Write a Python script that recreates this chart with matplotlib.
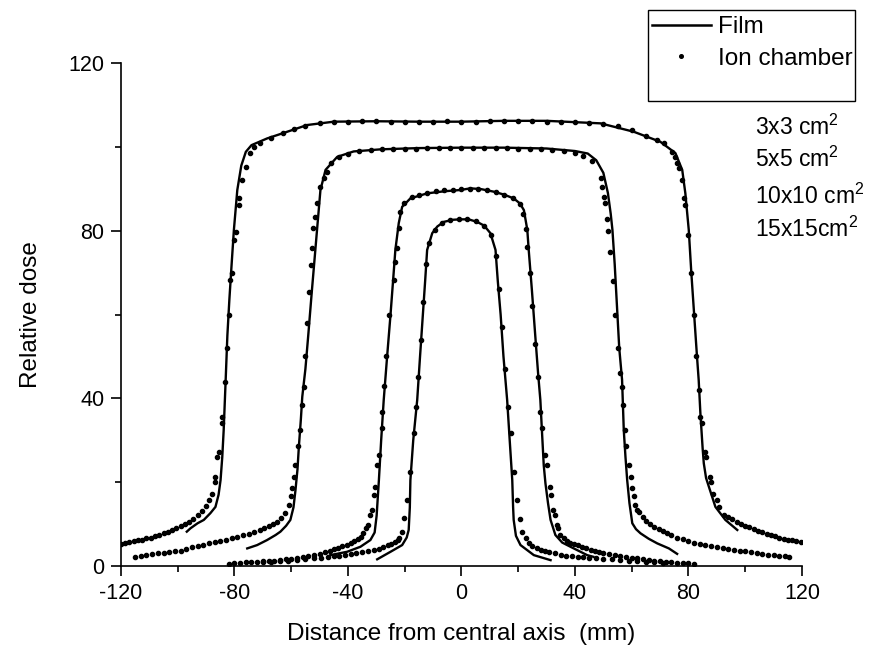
import matplotlib
matplotlib.use("Agg")
import matplotlib.pyplot as plt
from matplotlib.lines import Line2D
from matplotlib.patches import Rectangle
from matplotlib.ticker import MultipleLocator

plt.rcParams['font.family'] = ['Liberation Sans', 'DejaVu Sans']
plt.rcParams['mathtext.fontset'] = 'custom'
plt.rcParams['mathtext.rm'] = 'Liberation Sans'
plt.rcParams['mathtext.default'] = 'regular'
plt.rcParams['axes.unicode_minus'] = False

# ---- film profiles (solid lines) ----
film_15_x = [-96.8, -95.5, -93.0, -90.8, -88.5, -86.7, -85.6, -84.9, -84.3, -83.8, -83.1, -82.5, -81.8, -81.0,
             -80.2, -79.0, -77.6, -76.0, -74.0, -68.5, -61.4, -54.4, -45.0, -30.0, -15.0, 0.0, 15.0, 30.0,
             49.0, 60.7, 70.1, 75.4, 77.8, 78.9, 80.1, 81.0, 82.0, 83.0, 83.6, 84.2, 85.0, 85.4, 86.2, 87.2,
             89.5, 93.0, 97.2]
film_15_y = [8.2, 9.0, 10.2, 11.0, 12.6, 14.1, 17.0, 20.5, 26.0, 32.4, 44.4, 55.0, 63.5, 72.0,
             80.2, 89.7, 95.5, 98.8, 100.4, 102.0, 103.6, 105.2, 106.0, 106.1, 106.0, 106.0, 106.2, 106.2,
             105.6, 103.6, 101.2, 98.5, 94.5, 88.9, 80.2, 70.0, 60.0, 50.0, 44.4, 36.4, 28.0, 24.5, 21.0, 18.9,
             14.1, 11.0, 8.6]

film_10_x = [-75.5, -72.0, -68.5, -65.5, -63.8, -61.8, -60.3, -59.2, -58.5, -57.8, -57.3, -56.6, -56.1, -55.0,
             -54.0, -52.8, -51.8, -50.9, -49.7, -47.9, -43.8, -38.0, -28.5, -15.0, 0.0, 15.0, 30.0, 40.0,
             44.5, 47.5, 50.0, 51.6, 52.6, 53.2, 54.0, 54.8, 55.6, 56.6, 57.2, 57.8, 58.4, 59.2, 60.2, 61.5,
             63.1, 66.0, 69.0, 73.1, 76.0]
film_10_y = [4.2, 5.0, 6.2, 7.4, 8.2, 9.6, 11.0, 14.0, 18.1, 23.0, 28.5, 35.0, 40.4, 47.0,
             55.0, 65.0, 73.0, 80.2, 89.7, 94.5, 97.6, 98.9, 99.4, 99.7, 99.8, 99.8, 99.6, 99.0,
             98.4, 96.8, 93.8, 89.0, 84.0, 80.2, 72.0, 62.0, 52.0, 44.4, 32.4, 26.0, 20.5, 15.0, 10.2, 8.8,
             7.8, 6.5, 5.4, 4.2, 2.9]

film_5_x = [-46.2, -40.3, -35.6, -32.1, -30.6, -29.9, -29.1, -28.3, -27.4, -26.2, -25.0, -24.0, -23.3, -22.1,
            -20.9, -18.0, -12.1, -6.0, -0.4, 3.2, 7.0, 11.4, 15.0, 18.4, 20.6, 22.0, 23.2, 23.7, 24.8,
            26.0, 27.0, 27.8, 28.4, 29.0, 29.6, 30.5, 31.4, 33.1, 35.5, 38.4, 44.3, 46.5]
film_5_y = [2.6, 3.4, 4.6, 6.2, 8.0, 12.0, 20.5, 30.0, 39.6, 50.0, 60.0, 69.0, 75.4, 81.8,
            85.7, 87.7, 88.9, 89.4, 89.7, 90.1, 89.9, 89.3, 88.6, 87.7, 86.5, 84.9, 80.2, 75.4, 66.0,
            55.0, 46.0, 39.6, 31.7, 24.0, 19.7, 15.0, 11.0, 7.4, 5.6, 4.6, 2.6, 2.2]

film_3_x = [-29.7, -25.0, -20.9, -19.3, -18.6, -18.2, -18.0, -17.0, -15.6, -14.6, -13.6, -12.8, -12.1, -10.3,
            -8.5, -6.2, -3.0, -0.4, 2.5, 5.5, 8.0, 10.2, 12.0, 12.8, 13.8, 14.8, 16.1, 17.0, 17.9, 18.2,
            18.4, 19.2, 20.8, 25.5, 31.4]
film_3_y = [1.6, 3.4, 5.0, 6.8, 8.6, 14.0, 20.5, 30.0, 39.6, 50.0, 60.0, 68.0, 75.4, 79.4,
            81.0, 82.1, 82.6, 82.7, 82.7, 82.1, 81.2, 79.4, 75.4, 68.0, 60.0, 50.0, 39.6, 30.0, 20.5, 14.0,
            11.0, 7.2, 5.0, 2.6, 1.4]

# ---- ion chamber profiles (dots) ----
ion_15_x = [-120.0, -118.5, -117.0, -115.5, -114.0, -112.5, -111.0, -109.5, -108.0, -106.5, -105.0, -103.5,
            -102.0, -100.5, -99.0, -97.5, -96.0, -94.5, -93.0, -91.5, -90.2, -89.1, -87.9, -86.7, -86.7,
            -86.1, -85.5, -84.3, -84.3, -83.5, -82.8, -82.0, -81.4, -80.8, -80.2, -79.6, -78.5, -78.5,
            -77.3, -76.1, -74.4, -73.2, -71.0, -67.0, -63.0, -59.0, -55.0, -50.0, -45.0, -40.0, -35.0,
            -30.0, -25.0, -20.0, -15.0, -10.0, -5.0, 0.0, 5.0, 10.0, 15.0, 20.0, 25.0, 30.0, 35.0, 40.0,
            45.0, 50.0, 55.0, 60.0, 65.0, 69.0, 71.3, 74.2, 75.4, 76.0, 76.6, 77.8, 78.3, 78.9, 80.0,
            80.8, 81.8, 82.8, 83.6, 84.2, 84.8, 86.0, 86.3, 87.5, 87.8, 88.7, 89.9, 90.7, 92.4, 94.0,
            95.5, 97.0, 98.5, 100.0, 101.5, 103.0, 104.5, 106.0, 107.5, 109.0, 110.5, 112.0, 113.5,
            115.0, 116.5, 118.0, 119.5]
ion_15_y = [5.3, 5.5, 5.7, 5.9, 6.1, 6.3, 6.6, 6.8, 7.1, 7.4, 7.8, 8.2,
            8.6, 9.0, 9.5, 10.0, 10.6, 11.3, 12.2, 13.2, 14.4, 15.7, 17.3, 20.1, 21.3,
            26.1, 27.3, 34.0, 35.6, 44.0, 52.0, 60.0, 68.2, 69.8, 77.8, 79.8, 86.1, 87.7,
            92.1, 95.3, 98.5, 100.0, 101.0, 102.2, 103.2, 104.2, 105.0, 105.6, 105.9, 106.0, 106.1,
            106.1, 106.0, 106.0, 105.9, 106.0, 106.1, 106.0, 106.0, 106.1, 106.1, 106.2, 106.1, 106.0, 106.0, 105.9,
            105.8, 105.4, 104.9, 103.9, 102.7, 101.6, 100.8, 98.8, 97.6, 96.1, 94.9, 92.1, 87.7, 86.1, 79.0,
            70.0, 60.0, 50.0, 42.0, 35.6, 34.0, 27.3, 26.1, 21.3, 20.1, 17.3, 15.7, 14.1, 12.2, 11.6,
            11.1, 10.6, 10.1, 9.6, 9.2, 8.8, 8.4, 8.0, 7.7, 7.4, 7.1, 6.8, 6.5,
            6.3, 6.1, 5.9, 5.7]

ion_10_x = [-115.0, -113.0, -111.0, -109.0, -107.0, -105.0, -103.0, -101.0, -99.0, -97.0, -95.0, -93.0,
            -91.0, -89.0, -87.0, -85.0, -83.0, -81.0, -79.0, -77.0, -75.0, -73.0, -71.0, -69.5, -68.0,
            -66.5, -65.0, -63.5, -62.2, -60.8, -60.0, -59.7, -58.9, -58.5, -57.7, -57.0, -56.1, -55.6,
            -55.0, -54.4, -53.8, -53.2, -52.6, -52.3, -51.5, -50.9, -49.7, -48.3, -47.3, -46.0, -43.0,
            -40.0, -36.0, -32.0, -28.0, -24.0, -20.0, -16.0, -12.0, -8.0, -4.0, 0.0, 4.0, 8.0, 12.0,
            16.0, 20.0, 24.0, 28.0, 32.0, 36.0, 40.0, 43.0, 46.0, 49.0, 49.6, 50.2, 50.7, 51.3, 51.8,
            52.5, 53.3, 54.2, 55.0, 55.8, 56.6, 56.9, 57.8, 58.1, 59.0, 59.6, 60.2, 60.7, 61.3, 61.9,
            62.5, 63.8, 65.2, 66.6, 68.0, 69.5, 71.0, 72.5, 74.0, 76.0, 78.0, 80.0, 82.0, 84.0, 86.0,
            88.0, 90.0, 92.0, 94.0, 96.0, 98.0, 100.0, 102.0, 104.0, 106.0, 108.0, 110.0, 112.0, 114.0,
            115.5]
ion_10_y = [2.2, 2.4, 2.6, 2.8, 3.0, 3.2, 3.3, 3.5, 3.7, 4.1, 4.5, 4.8,
            5.1, 5.4, 5.7, 6.0, 6.3, 6.7, 7.0, 7.3, 7.7, 8.1, 8.6, 9.0, 9.5,
            10.0, 10.6, 11.5, 12.6, 14.6, 16.7, 18.5, 21.3, 24.1, 28.6, 32.4, 38.4, 42.8,
            50.0, 58.0, 65.4, 71.8, 75.8, 80.6, 83.3, 86.5, 90.5, 92.5, 94.1, 96.2, 97.6,
            98.4, 98.9, 99.2, 99.4, 99.5, 99.6, 99.6, 99.7, 99.7, 99.8, 99.8, 99.8, 99.8, 99.7,
            99.7, 99.6, 99.6, 99.4, 99.2, 99.0, 98.6, 97.8, 96.6, 92.5, 90.5, 88.1, 86.5, 82.9, 80.0,
            75.0, 68.0, 60.0, 52.0, 46.0, 42.8, 38.4, 32.4, 28.6, 24.1, 21.2, 18.5, 16.7, 14.6, 13.4,
            12.8, 11.6, 10.7, 10.0, 9.3, 8.8, 8.3, 7.8, 7.3, 6.8, 6.4, 6.0, 5.6, 5.3, 5.0,
            4.7, 4.5, 4.3, 4.1, 3.9, 3.7, 3.5, 3.3, 3.1, 2.9, 2.7, 2.6, 2.4, 2.3,
            2.2]

ion_5_x = [-82.0, -80.0, -78.0, -76.0, -74.0, -72.0, -70.0, -68.0, -66.0, -64.0, -62.0, -60.0, -58.0,
           -56.0, -54.0, -52.0, -50.0, -48.0, -46.5, -45.0, -43.5, -42.0, -40.5, -39.0, -37.8, -36.6,
           -35.5, -34.6, -33.8, -33.0, -32.1, -31.5, -30.9, -30.3, -29.7, -29.1, -27.9, -27.9, -27.2,
           -26.5, -25.5, -23.9, -23.3, -22.7, -22.1, -21.5, -20.3, -17.5, -15.0, -12.0, -9.0, -6.0,
           -3.0, 0.0, 3.0, 6.0, 9.0, 12.0, 15.0, 18.0, 20.5, 21.8, 22.6, 23.2, 24.0, 25.0, 26.0, 27.0,
           27.8, 28.4, 29.6, 30.2, 31.1, 31.4, 32.3, 32.8, 33.5, 33.9, 34.9, 36.0, 37.2, 38.4, 39.6,
           41.0, 42.5, 44.0, 45.5, 47.0, 48.5, 50.0, 52.0, 54.0, 56.0, 58.0, 60.0, 62.0, 64.0, 66.0,
           68.0, 70.0, 72.0, 74.0, 76.0, 78.0, 80.0, 82.0]
ion_5_y = [0.6, 0.7, 0.8, 0.9, 0.9, 1.0, 1.1, 1.2, 1.3, 1.4, 1.6, 1.7, 1.9,
           2.1, 2.3, 2.6, 2.9, 3.3, 3.7, 4.0, 4.4, 4.7, 5.0, 5.5, 5.9, 6.4,
           7.0, 7.8, 9.0, 9.8, 12.2, 13.4, 16.9, 18.8, 24.1, 26.5, 32.9, 36.8, 43.0,
           50.0, 60.0, 68.2, 72.6, 75.8, 80.6, 84.5, 86.5, 88.0, 88.5, 89.0, 89.4, 89.6,
           89.7, 89.9, 90.0, 89.9, 89.6, 89.2, 88.6, 87.7, 86.3, 84.0, 80.5, 76.0, 70.0, 62.0, 53.0, 45.0,
           36.8, 32.9, 26.5, 24.1, 18.8, 16.9, 13.4, 12.2, 9.8, 9.0, 7.4, 6.6, 6.0, 5.6, 5.3,
           4.9, 4.5, 4.2, 3.9, 3.6, 3.4, 3.2, 2.9, 2.7, 2.5, 2.2, 2.0, 1.8, 1.6, 1.4,
           1.3, 1.1, 1.0, 0.9, 0.8, 0.7, 0.7, 0.6]

ion_3_x = [-70.0, -67.0, -64.0, -61.0, -58.0, -55.0, -52.0, -49.5, -47.0, -45.0, -43.0, -41.0, -39.0,
           -37.0, -35.0, -33.0, -31.0, -29.0, -27.5, -26.0, -24.8, -23.6, -22.5, -22.1, -20.9, -20.1,
           -19.1, -18.0, -16.8, -16.0, -15.2, -14.4, -13.5, -12.6, -11.5, -9.5, -7.0, -4.0, -1.0, 2.0,
           5.0, 8.0, 10.5, 12.2, 13.2, 14.2, 15.2, 16.3, 17.3, 18.4, 19.4, 20.6, 21.4, 22.6, 23.7,
           25.0, 26.5, 28.0, 29.5, 31.0, 33.0, 35.0, 37.0, 39.0, 41.0, 43.0, 45.0, 47.5, 50.0, 53.0,
           56.0, 59.0, 62.0, 65.0, 68.0, 71.0]
ion_3_y = [0.9, 1.0, 1.1, 1.3, 1.4, 1.6, 1.8, 2.0, 2.1, 2.3, 2.4, 2.6, 2.8,
           3.0, 3.3, 3.5, 3.8, 4.1, 4.5, 4.9, 5.3, 5.7, 6.2, 6.6, 8.2, 11.4,
           15.7, 22.5, 31.7, 38.0, 45.0, 54.0, 63.0, 72.0, 77.0, 80.2, 81.8, 82.5, 82.8, 82.8,
           82.3, 81.2, 79.0, 74.0, 66.0, 57.0, 47.0, 38.0, 31.7, 22.5, 15.7, 11.3, 8.0, 6.6, 5.4,
           4.8, 4.3, 3.9, 3.6, 3.3, 3.0, 2.7, 2.5, 2.4, 2.2, 2.1, 2.0, 1.9, 1.7, 1.6,
           1.4, 1.3, 1.1, 1.0, 0.9, 0.8]

field_labels = ['3x3 cm$^2$', '5x5 cm$^2$', '10x10 cm$^2$', '15x15cm$^2$']
x_ticks = [-120, -80, -40, 0, 40, 80, 120]
y_ticks = [0, 40, 80, 120]

fig = plt.figure(figsize=(8.81, 6.48), dpi=100)
ax = fig.add_axes([0.1373, 0.1265, 0.773, 0.7763])

film_sets = [(film_15_x, film_15_y), (film_10_x, film_10_y), (film_5_x, film_5_y), (film_3_x, film_3_y)]
ion_sets = [(ion_15_x, ion_15_y), (ion_10_x, ion_10_y), (ion_5_x, ion_5_y), (ion_3_x, ion_3_y)]

for fx, fy in film_sets:
    ax.plot(fx, fy, color='black', linewidth=1.7, solid_joinstyle='round')
for ix, iy in ion_sets:
    ax.plot(ix, iy, linestyle='none', marker='o', markersize=3.0, color='black')

ax.set_xlim(-120, 120)
ax.set_ylim(0, 120)
ax.set_xticks(x_ticks)
ax.set_yticks(y_ticks)
ax.xaxis.set_minor_locator(MultipleLocator(20))
ax.yaxis.set_minor_locator(MultipleLocator(20))
ax.tick_params(which='major', direction='out', length=7, width=1.2, labelsize=15.5, pad=5)
ax.tick_params(which='minor', direction='out', length=4, width=1.2)
for side in ['top', 'right']:
    ax.spines[side].set_visible(False)
for side in ['left', 'bottom']:
    ax.spines[side].set_linewidth(1.2)

ax.set_xlabel('Distance from central axis  (mm)', fontsize=17.5, labelpad=14)
ax.set_ylabel('Relative dose', fontsize=17.5, labelpad=19)

# field size labels
label_y = [104.7, 97.1, 88.3, 80.4]
for lab, ly in zip(field_labels, label_y):
    ax.text(103.6, ly, lab, fontsize=16.5, va='center', ha='left')

# legend box
handles = [Line2D([], [], color='black', linewidth=1.8),
           Line2D([], [], linestyle='none', marker='o', markersize=2.6, color='black')]
leg = fig.legend(handles, ['Film', 'Ion chamber'], loc='upper left',
                 bbox_to_anchor=(646 / 881, 1 - 10 / 648), frameon=False, fontsize=17.5,
                 handlelength=2.4, handletextpad=0.3, labelspacing=0.38, borderpad=0.26,
                 borderaxespad=0)
fig.patches.append(Rectangle((648 / 881, 1 - 101 / 648), 207 / 881, 91 / 648,
                             transform=fig.transFigure, fill=False, edgecolor='black', linewidth=1.0))

fig.savefig('out.png', dpi=100)
